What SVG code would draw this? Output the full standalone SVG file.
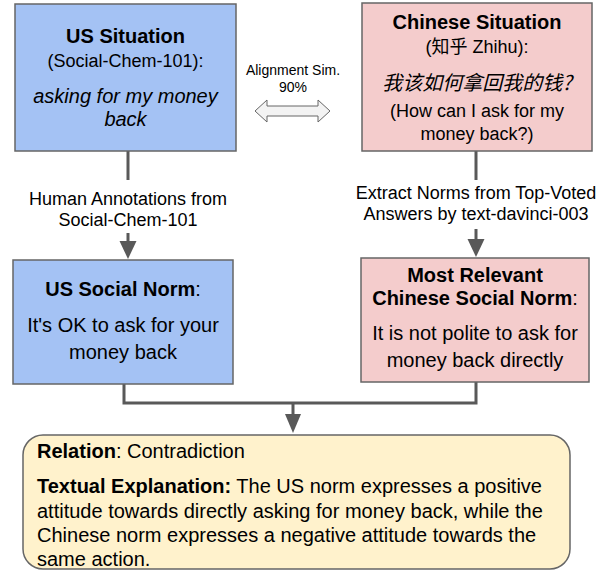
<svg xmlns="http://www.w3.org/2000/svg" width="597" height="572" viewBox="0 0 597 572">
<style>
text{font-family:"Liberation Sans",Arial,"Noto Sans CJK SC",sans-serif;fill:#000;text-anchor:middle}
.b{font-weight:bold}
.i{font-style:italic}
.t20{font-size:20px}
.t18{font-size:18px}
.t14{font-size:14px}
.cjk{font-family:"Noto Sans CJK SC","Liberation Sans",sans-serif}
.box{stroke:#666;stroke-width:1.5}
.blue{fill:#a4c2f4}
.pink{fill:#f4cccc}
.conn{stroke:#595959;stroke-width:3;fill:none}
.head{fill:#595959}
.left{text-anchor:start}
</style>
<rect width="597" height="572" fill="#fff"/>
<g id="connectors">
<line class="conn" x1="128" y1="151" x2="128" y2="180"/>
<line class="conn" x1="128" y1="233" x2="128" y2="243"/>
<polygon class="head" points="119.5,241 136.5,241 128,259"/>
<line class="conn" x1="476" y1="151" x2="476" y2="180"/>
<line class="conn" x1="476" y1="229" x2="476" y2="241"/>
<polygon class="head" points="467.5,239 484.5,239 476,257"/>
<polyline class="conn" points="124,384 124,403 476,403 476,382"/>
<line class="conn" x1="293" y1="403" x2="293" y2="416"/>
<polygon class="head" points="285,414 301,414 293,433"/>
<g id="label-human">
<text class="t18" x="128" y="205">Human Annotations from</text>
<text class="t18" x="128" y="226">Social-Chem-101</text>
</g>
<g id="label-extract">
<text class="t18" x="476" y="199">Extract Norms from Top-Voted</text>
<text class="t18" x="476" y="220">Answers by text-davinci-003</text>
</g>
</g>
<g id="alignment">
<text class="t14" x="293" y="75">Alignment Sim.</text>
<text class="t14" x="293" y="92">90%</text>
<polygon points="255,111 267,100 267,106 318,106 318,100 330,111 318,122 318,116 267,116 267,122" fill="#f3f3f3" stroke="#666" stroke-width="1"/>
</g>
<g id="us-situation">
<rect class="box blue" x="15" y="4" width="221" height="147"/>
<text class="b t20" x="125.5" y="43">US Situation</text>
<text class="t18" x="125.5" y="67">(Social-Chem-101):</text>
<text class="i t20" x="125.5" y="103">asking for my money</text>
<text class="i t20" x="125.5" y="126">back</text>
</g>
<g id="chinese-situation">
<rect class="box pink" x="362" y="3" width="230" height="148"/>
<text class="b t20" x="477" y="29">Chinese Situation</text>
<text class="t18" x="477" y="53">(<tspan class="cjk">知乎</tspan> Zhihu):</text>
<text class="i t20 cjk" x="477" y="90">我该如何拿回我的钱?</text>
<text class="t18" x="477" y="117">(How can I ask for my</text>
<text class="t18" x="477" y="140">money back?)</text>
</g>
<g id="us-norm">
<rect class="box blue" x="13" y="260" width="220" height="124"/>
<text class="t20" x="123" y="296"><tspan class="b">US Social Norm</tspan>:</text>
<text class="t20" x="123" y="332">It's OK to ask for your</text>
<text class="t20" x="123" y="359">money back</text>
</g>
<g id="chinese-norm">
<rect class="box pink" x="361" y="258" width="228" height="124"/>
<text class="b t20" x="475" y="282">Most Relevant</text>
<text class="t20" x="475" y="305"><tspan class="b">Chinese Social Norm</tspan>:</text>
<text class="t20" x="475" y="340">It is not polite to ask for</text>
<text class="t20" x="475" y="367">money back directly</text>
</g>
<g id="relation">
<rect x="23" y="435" width="547" height="134" rx="20" ry="20" fill="#fff2cc" stroke="#666" stroke-width="1.5"/>
<text class="t20 left" x="37" y="458"><tspan class="b">Relation</tspan>: Contradiction</text>
<text class="t20 left" x="37" y="493"><tspan class="b">Textual Explanation:</tspan> The US norm expresses a positive</text>
<text class="t20 left" x="37" y="518">attitude towards directly asking for money back, while the</text>
<text class="t20 left" x="37" y="542">Chinese norm expresses a negative attitude towards the</text>
<text class="t20 left" x="37" y="566">same action.</text>
</g>
</svg>
